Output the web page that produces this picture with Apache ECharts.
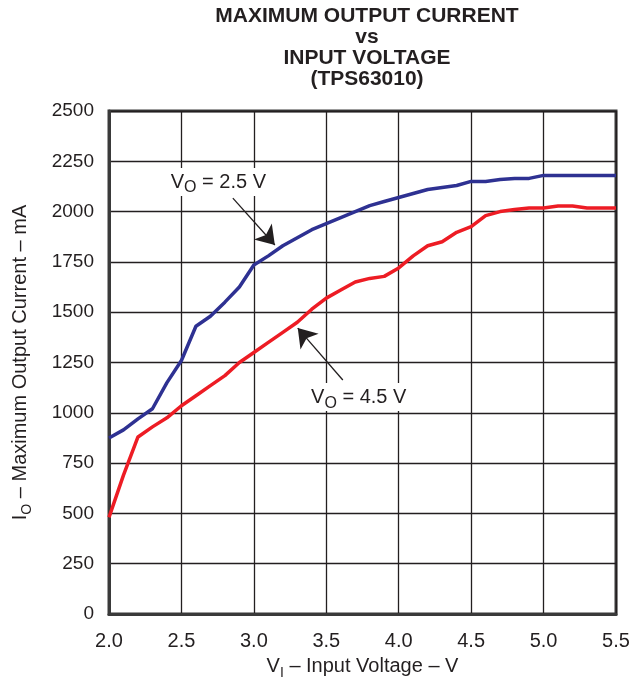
<!DOCTYPE html>
<html>
<head>
<meta charset="utf-8">
<script src="https://cdn.jsdelivr.net/npm/echarts@6/dist/echarts.min.js"></script>
<style>
  html, body { margin: 0; padding: 0; background: #fff; }
  #chart { width: 631px; height: 686px; }
</style>
</head>
<body>
<div id="chart"></div>
<script>
// ---- Data ----
const titleLines = ['MAXIMUM OUTPUT CURRENT', 'vs', 'INPUT VOLTAGE', '(TPS63010)'];
const xTicks = [2.0, 2.5, 3.0, 3.5, 4.0, 4.5, 5.0, 5.5];
const yTicks = [0, 250, 500, 750, 1000, 1250, 1500, 1750, 2000, 2250, 2500];

const vinBlue = [2.0, 2.1, 2.2, 2.3, 2.4, 2.5, 2.6, 2.7, 2.8, 2.9, 3.0, 3.1, 3.2, 3.3, 3.4, 3.5, 3.6, 3.7, 3.8, 3.9, 4.0, 4.1, 4.2, 4.3, 4.4, 4.5, 4.6, 4.7, 4.8, 4.9, 5.0, 5.5];
const ioBlue  = [875, 915, 970, 1020, 1150, 1260, 1430, 1480, 1550, 1625, 1735, 1780, 1830, 1870, 1910, 1940, 1970, 2000, 2030, 2050, 2070, 2090, 2110, 2120, 2130, 2150, 2150, 2160, 2165, 2165, 2180, 2180];

const vinRed = [2.0, 2.1, 2.2, 2.3, 2.4, 2.5, 2.6, 2.7, 2.8, 2.9, 3.0, 3.1, 3.2, 3.3, 3.4, 3.5, 3.6, 3.7, 3.8, 3.9, 4.0, 4.1, 4.2, 4.3, 4.4, 4.5, 4.6, 4.7, 4.8, 4.9, 5.0, 5.1, 5.2, 5.3, 5.4, 5.5];
const ioRed  = [480, 690, 880, 930, 975, 1035, 1085, 1135, 1185, 1250, 1300, 1350, 1400, 1450, 1515, 1570, 1610, 1650, 1668, 1678, 1720, 1780, 1830, 1850, 1897, 1925, 1980, 2000, 2010, 2018, 2018, 2028, 2028, 2018, 2018, 2018];

// annotation anchors (data coordinates)
const blueLabelAt = [2.755, 2147];
const blueArrowFrom = [2.855, 2067];
const blueArrowTo = [3.145, 1834];
const redLabelAt = [3.724, 1078];
const redArrowFrom = [3.614, 1163];
const redArrowTo = [3.303, 1421];

// ---- Chart ----
const FONT = '"Liberation Sans", Arial, Helvetica, sans-serif';
const chart = echarts.init(document.getElementById('chart'));

const pairs = (xs, ys) => xs.map((x, i) => [x, ys[i]]);
const annoRich = {
  a: { fontSize: 20, fontFamily: FONT, color: '#231f20', lineHeight: 28, verticalAlign: 'middle' },
  s: { fontSize: 16, fontFamily: FONT, color: '#231f20', lineHeight: 16, verticalAlign: 'bottom' }
};

function annotation(labelAt, text, from, to) {
  return {
    markPoint: {
      silent: true,
      symbol: 'rect',
      symbolSize: 1,
      itemStyle: { color: 'rgba(0,0,0,0)' },
      label: {
        show: true,
        position: 'inside',
        formatter: text,
        backgroundColor: '#fff',
        padding: [0, 6, 0, 6],
        rich: annoRich
      },
      data: [{ coord: labelAt }]
    },
    markLine: {
      silent: true,
      symbol: ['none', 'arrow'],
      symbolSize: 18,
      label: { show: false },
      lineStyle: { color: '#231f20', width: 1.3, type: 'solid' },
      data: [[{ coord: from }, { coord: to }]]
    }
  };
}

const nameRich = {
  a: { fontSize: 20, fontFamily: FONT, color: '#231f20', lineHeight: 28, verticalAlign: 'middle' },
  s: { fontSize: 14, fontFamily: FONT, color: '#231f20', lineHeight: 14, verticalAlign: 'bottom' }
};

const option = {
  animation: false,
  backgroundColor: '#fff',
  title: {
    text: titleLines.join('\n'),
    left: 362,
    top: 1,
    textAlign: 'center',
    textStyle: { fontFamily: FONT, fontWeight: 'bold', fontSize: 21, lineHeight: 21, color: '#231f20' }
  },
  grid: {
    left: 109, top: 111, right: 15, bottom: 72,
    containLabel: false,
    outerBoundsMode: 'none',
    show: true, borderColor: '#3a3a3a', borderWidth: 3, backgroundColor: '#fff'
  },
  xAxis: {
    type: 'value', min: 2, max: 5.5, interval: 0.5,
    axisLine: { show: true, lineStyle: { color: '#3a3a3a', width: 3 } },
    axisTick: { show: false },
    axisLabel: {
      margin: 17, fontSize: 20, fontFamily: FONT, color: '#231f20',
      formatter: v => v.toFixed(1)
    },
    splitLine: { show: true, lineStyle: { color: '#231f20', width: 1.3 } },
    name: '{a|V}{s|I}{a| – Input Voltage – V}',
    nameLocation: 'middle',
    nameGap: 38,
    nameTextStyle: { rich: nameRich }
  },
  yAxis: {
    type: 'value', min: 0, max: 2500, interval: 250,
    axisLine: { show: true, lineStyle: { color: '#3a3a3a', width: 3 } },
    axisTick: { show: false },
    axisLabel: { margin: 15, fontSize: 19, fontFamily: FONT, color: '#231f20', formatter: v => String(v) },
    splitLine: { show: true, lineStyle: { color: '#231f20', width: 1.3 } },
    name: '{a|I}{s|O}{a| – Maximum Output Current – mA}',
    nameLocation: 'middle',
    nameGap: 75,
    nameTextStyle: { rich: nameRich }
  },
  series: [
    Object.assign({
      name: 'VO = 2.5 V',
      type: 'line',
      data: pairs(vinBlue, ioBlue),
      showSymbol: false,
      symbol: 'none',
      lineStyle: { color: '#2e3192', width: 3.5 },
      z: 3
    }, annotation(blueLabelAt, '{a|V}{s|O}{a| = 2.5 V}', blueArrowFrom, blueArrowTo)),
    Object.assign({
      name: 'VO = 4.5 V',
      type: 'line',
      data: pairs(vinRed, ioRed),
      showSymbol: false,
      symbol: 'none',
      lineStyle: { color: '#ed1c24', width: 3.5 },
      z: 3
    }, annotation(redLabelAt, '{a|V}{s|O}{a| = 4.5 V}', redArrowFrom, redArrowTo))
  ]
};
chart.setOption(option);
</script>
</body>
</html>
